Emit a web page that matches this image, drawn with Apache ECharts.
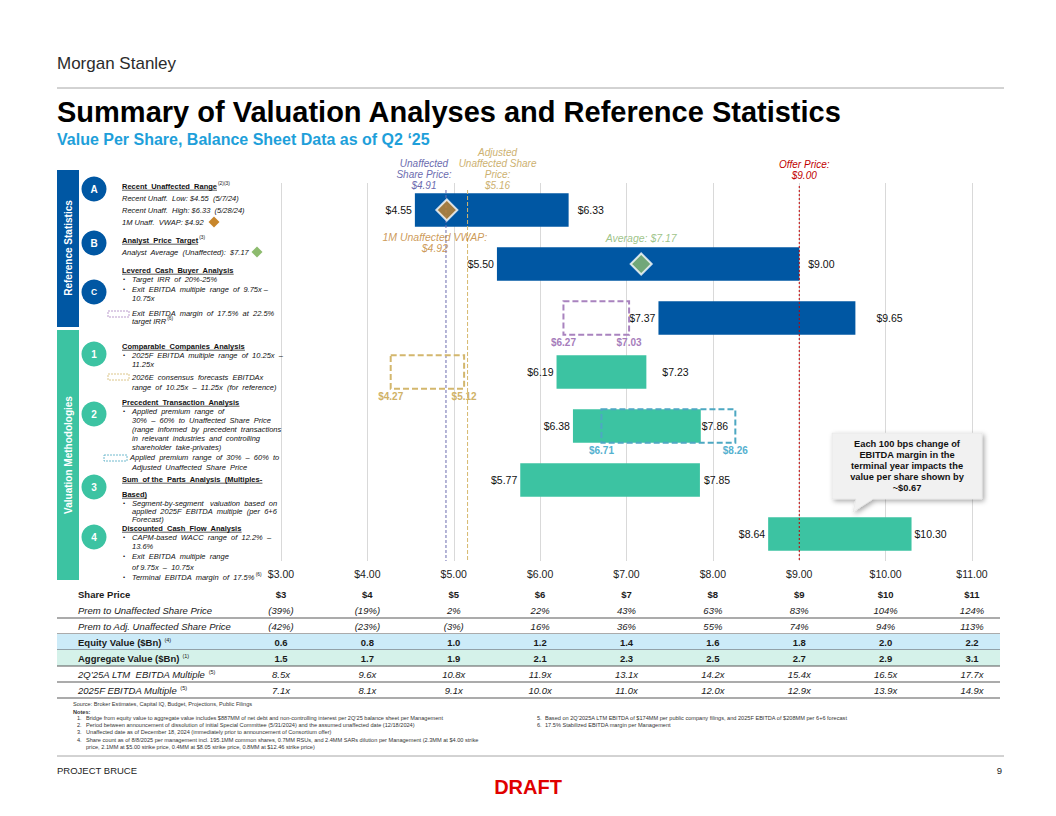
<!DOCTYPE html>
<html><head><meta charset="utf-8">
<script src="https://cdn.jsdelivr.net/npm/echarts@6/dist/echarts.min.js"></script>
<style>html,body{margin:0;padding:0;background:#fff}#c{width:1056px;height:816px}</style>
</head><body><div id="c"></div>
<script>
// ---------------- DATA ----------------
const rowIds = ['A', 'B', 'C', '1', '2', '3', '4'];
const rangeLows  = [4.55, 5.50, 7.37, 6.19, 6.38, 5.77, 8.64];
const rangeHighs = [6.33, 9.00, 9.65, 7.23, 7.86, 7.85, 10.30];
const rangeGroups = ['ref', 'ref', 'ref', 'val', 'val', 'val', 'val'];

const boxRows  = ['C', '1', '2'];
const boxLows  = [6.27, 4.27, 6.71];
const boxHighs = [7.03, 5.12, 8.26];

const vwapValue = 4.92, vwapRow = 'A';
const analystAvgValue = 7.17, analystRow = 'B';

const refLineNames  = ['Unaffected\nShare Price:', 'Adjusted\nUnaffected Share\nPrice:', 'Offer Price:'];
const refLineValues = [4.91, 5.16, 9.00];

const sharePrices = [3, 4, 5, 6, 7, 8, 9, 10, 11];
const premUnaffected = [-39, -19, 2, 22, 43, 63, 83, 104, 124];
const premAdjUnaffected = [-42, -23, -3, 16, 36, 55, 74, 94, 113];
const equityValue = [0.6, 0.8, 1.0, 1.2, 1.4, 1.6, 1.8, 2.0, 2.2];
const aggregateValue = [1.5, 1.7, 1.9, 2.1, 2.3, 2.5, 2.7, 2.9, 3.1];
const ltmMultiple = [8.5, 9.6, 10.8, 11.9, 13.1, 14.2, 15.4, 16.5, 17.7];
const fwdMultiple = [7.1, 8.1, 9.1, 10.0, 11.0, 12.0, 12.9, 13.9, 14.9];
const tableRowNames = ['Share Price', 'Prem to Unaffected Share Price', 'Prem to Adj. Unaffected Share Price',
  'Equity Value ($Bn)', 'Aggregate Value ($Bn)', '2Q’25A LTM  EBITDA Multiple', '2025F EBITDA Multiple'];
const tableRowNotes = ['', '', '', '(4)', '(1)', '(5)', '(5)'];

// ---------------- STYLE ----------------
const FONT = "'Liberation Sans', Arial, sans-serif";
const BLUE = '#0057A3', TEAL = '#3CC3A2';
const BOX_COLORS = ['#A983BF', '#D3B76D', '#4DA8C2'];
const BOX_LABEL_COLORS = ['#A67DBB', '#D0B267', '#55B1CF'];
const REF_COLORS = ['#6B6BAE', '#D6B86C', '#C00000'];
const REF_LABEL_COLORS = ['#6C6CAF', '#CDB170', '#C00000'];
const REF_DASH = [[3, 2], [4, 2], [2, 2]];
const REF_LABEL_DX = [-22, 30, 5];
const REF_TEXT_BOTTOM = [7.5, 7.5, -2];
const REF_LINE_START = [7, 7, 3];
const RIGHT_GAP = [9, 9, 21, 16, 1, 4, 3];
const TABLE_L = 57, TABLE_R = 1000;
const tableRowStyle = ['b', 'i', 'i', 'b', 'b', 'i', 'i'];
const tableRowFill = [null, null, null, '#CCEBF8', '#D5F2EA', null, null];

const fmtUSD = v => '$' + v.toFixed(2);
const fmtPct = v => v < 0 ? '(' + (-v) + '%)' : v + '%';
const tableFormat = [
  v => '$' + v, fmtPct, fmtPct, v => v.toFixed(1), v => v.toFixed(1), v => v.toFixed(1) + 'x', v => v.toFixed(1) + 'x'
];
const tableValues = [sharePrices, premUnaffected, premAdjUnaffected, equityValue, aggregateValue, ltmMultiple, fwdMultiple];

// text measuring
const mctx = document.createElement('canvas').getContext('2d');
function tw(text, size, weight, style) {
  mctx.font = (style || 'normal') + ' ' + (weight || 'normal') + ' ' + size + 'px ' + FONT;
  return mctx.measureText(text).width;
}
function T(x, y, text, o) {
  o = o || {};
  return { type: 'text', x: x, y: y, silent: true, z: o.z || 10,
    rotation: o.rotation || 0,
    style: { text: text, fill: o.color || '#111', fontSize: o.size || 7.5, fontWeight: o.weight || 'normal',
      fontStyle: o.style || 'normal', fontFamily: FONT, align: o.align || 'left', verticalAlign: o.va || 'middle',
      lineHeight: o.lh } };
}
function TX(x, y, text, sup, o) {
  const els = [T(x, y, text, o)];
  const w = tw(text, o.size || 7.5, o.weight, o.style);
  if (o.underline) {
    els.push({ type: 'line', silent: true, z: 10, shape: { x1: x, y1: y + 4.2, x2: x + w, y2: y + 4.2 }, style: { stroke: '#111', lineWidth: 0.7 } });
  }
  if (sup) els.push(T(x + w + 1, y - 2.5, sup, { size: 4.8, color: '#111' }));
  return els;
}
function diamond(cx, cy, r, fill) {
  return { type: 'polygon', silent: true, z: 10, shape: { points: [[cx, cy - r], [cx + r, cy], [cx, cy + r], [cx - r, cy]] }, style: { fill: fill } };
}

// ---------------- PAGE GRAPHICS ----------------
const G = [];
G.push(T(57, 63, 'Morgan Stanley', { size: 17, color: '#2b2b2b' }));
G.push({ type: 'line', silent: true, shape: { x1: 57, y1: 88, x2: 1004, y2: 88 }, style: { stroke: '#A6A6A6', lineWidth: 1 } });
G.push(T(57, 112, 'Summary of Valuation Analyses and Reference Statistics', { size: 29, weight: 'bold', color: '#000' }));
G.push(T(57, 139, 'Value Per Share, Balance Sheet Data as of Q2 ‘25', { size: 16, weight: 'bold', color: '#1E9FDA' }));

// side bars
G.push({ type: 'rect', silent: true, shape: { x: 57, y: 170, width: 22, height: 157 }, style: { fill: BLUE } });
G.push({ type: 'rect', silent: true, shape: { x: 57, y: 330, width: 22, height: 250 }, style: { fill: TEAL } });
G.push(T(68, 248, 'Reference Statistics', { size: 10, weight: 'bold', color: '#fff', align: 'center', rotation: Math.PI / 2 }));
G.push(T(68, 455, 'Valuation Methodologies', { size: 10, weight: 'bold', color: '#fff', align: 'center', rotation: Math.PI / 2 }));

// circles
[['A', 189, BLUE], ['B', 243, BLUE], ['C', 292, BLUE], ['1', 354, TEAL], ['2', 414, TEAL], ['3', 487, TEAL], ['4', 537, TEAL]].forEach(c => {
  G.push({ type: 'circle', silent: true, shape: { cx: 94, cy: c[1], r: 12.5 }, style: { fill: c[2] } });
  G.push(T(94, c[1], c[0], { size: c[0] === 'C' ? 8.5 : 10, weight: 'bold', color: '#fff', align: 'center' }));
});

// left panel text
const H = { weight: 'bold', underline: true };
const I = { style: 'italic' };
function bullet(y) { G.push(T(123, y, '•', { size: 6 })); }
function add(x, y, text, o, sup) { TX(x, y, text, sup, o).forEach(e => G.push(e)); }
add(122, 186, 'Recent  Unaffected  Range', H, '(2)(3)');
add(122, 198, 'Recent Unaff.  Low: $4.55  (5/7/24)', I);
add(122, 210, 'Recent Unaff.  High: $6.33  (5/28/24)', I);
add(122, 222, '1M Unaff.  VWAP: $4.92', I);
G.push(diamond(214, 222, 5.5, '#C8862A'));
add(122, 240, 'Analyst  Price  Target', H, '(3)');
add(122, 252, 'Analyst  Average  (Unaffected):  $7.17', I);
G.push(diamond(257, 252, 5.5, '#8DBB6E'));
add(122, 270, 'Levered  Cash  Buyer  Analysis', H);
bullet(279); add(132, 279, 'Target  IRR  of  20%-25%', I);
bullet(289); add(132, 289, 'Exit  EBITDA  multiple  range  of  9.75x –', I);
add(132, 298, '10.75x', I);
G.push({ type: 'rect', silent: true, shape: { x: 108, y: 311, width: 21, height: 6 }, style: { fill: 'none', stroke: BOX_COLORS[0], lineWidth: 0.8, lineDash: [2, 1] } });
add(132, 313, 'Exit  EBITDA  margin  of  17.5%  at  22.5%', I);
add(132, 321, 'target IRR', I, '(6)');

add(122, 346, 'Comparable  Companies  Analysis', H);
bullet(355); add(132, 355, '2025F  EBITDA  multiple  range  of  10.25x  –', I);
add(132, 364, '11.25x', I);
G.push({ type: 'rect', silent: true, shape: { x: 108, y: 374, width: 21, height: 6 }, style: { fill: 'none', stroke: BOX_COLORS[1], lineWidth: 0.8, lineDash: [2, 1] } });
add(132, 377, '2026E  consensus  forecasts  EBITDAx', I);
add(132, 387, 'range  of  10.25x  –  11.25x  (for  reference)', I);
add(122, 402, 'Precedent  Transaction  Analysis', H);
bullet(411); add(132, 411, 'Applied  premium  range  of', I);
add(132, 420, '30%  –  60%  to  Unaffected  Share  Price', I);
add(132, 429, '(range  informed  by  precedent  transactions', I);
add(132, 438, 'in  relevant  industries  and  controlling', I);
add(132, 447, 'shareholder  take-privates)', I);
G.push({ type: 'rect', silent: true, shape: { x: 104, y: 455, width: 23, height: 6 }, style: { fill: 'none', stroke: BOX_COLORS[2], lineWidth: 0.8, lineDash: [2, 1] } });
add(130, 457, 'Applied  premium  range  of  30%  –  60%  to', I);
add(132, 467, 'Adjusted  Unaffected  Share  Price', I);
add(122, 479, 'Sum  of the  Parts  Analysis  (Multiples-', H);
add(122, 494, 'Based)', H);
bullet(503); add(132, 503, 'Segment-by-segment   valuation  based  on', I);
add(132, 511, 'applied  2025F  EBITDA  multiple  (per  6+6', I);
add(132, 519, 'Forecast)', I);
add(122, 528, 'Discounted  Cash  Flow  Analysis', H);
bullet(537); add(132, 537, 'CAPM-based  WACC  range  of  12.2%  –', I);
add(132, 546, '13.6%', I);
bullet(556); add(132, 556, 'Exit  EBITDA  multiple  range', I);
add(132, 567, 'of 9.75x  –  10.75x', I);
bullet(577); add(132, 577, 'Terminal  EBITDA  margin  of  17.5%', I, '(6)');

// callout
G.push({ type: 'polygon', silent: true, z: 20,
  shape: { points: [[832, 433], [982, 433], [982, 499], [873, 499], [853, 512], [856, 499], [832, 499]] },
  style: { fill: '#F1F1F1', stroke: '#E2E2E2', lineWidth: 0.5, shadowBlur: 5, shadowColor: 'rgba(0,0,0,0.35)', shadowOffsetX: 2, shadowOffsetY: 2 } });
['Each 100 bps change of', 'EBITDA margin in the', 'terminal year impacts the', 'value per share shown by', '~$0.67'].forEach((s, k) => {
  G.push(T(907, 444 + k * 11, s, { size: 9.3, weight: 'bold', color: '#111', align: 'center', z: 21 }));
});

// notes
G.push(T(73, 704, 'Source: Broker Estimates, Capital IQ, Budget, Projections, Public Filings', { size: 5.6, color: '#333' }));
G.push(T(73, 712, 'Notes:', { size: 5.6, weight: 'bold', color: '#333' }));
const notesL = [
  ['1.', 'Bridge from equity value to aggregate value includes $887MM of net debt and non-controlling interest per 2Q’25 balance sheet per Management'],
  ['2.', 'Period between announcement of dissolution of initial Special Committee (5/31/2024) and the assumed unaffected date (12/18/2024)'],
  ['3.', 'Unaffected date as of December 18, 2024 (immediately prior to announcement of Consortium offer)'],
  ['4.', 'Share count as of 8/8/2025 per management incl. 195.1MM common shares, 0.7MM RSUs, and 2.4MM SARs dilution per Management (2.3MM at $4.00 strike'],
  ['', 'price, 2.1MM at $5.00 strike price, 0.4MM at $8.05 strike price, 0.8MM at $12.46 strike price)']
];
notesL.forEach((n, k) => {
  if (n[0]) G.push(T(77, 718 + k * 7.2, n[0], { size: 5.6, color: '#333' }));
  G.push(T(86, 718 + k * 7.2, n[1], { size: 5.6, color: '#333' }));
});
const notesR = [
  ['5.', 'Based on 2Q’2025A LTM EBITDA of $174MM per public company filings, and 2025F EBITDA of $208MM per 6+6 forecast'],
  ['6.', '17.5% Stabilized EBITDA margin per Management']
];
notesR.forEach((n, k) => {
  G.push(T(537, 718 + k * 7.2, n[0], { size: 5.6, color: '#333' }));
  G.push(T(545, 718 + k * 7.2, n[1], { size: 5.6, color: '#333' }));
});

// footer
G.push({ type: 'line', silent: true, shape: { x1: 57, y1: 756, x2: 1004, y2: 756 }, style: { stroke: '#A6A6A6', lineWidth: 1 } });
G.push(T(57, 770, 'PROJECT BRUCE', { size: 9.5, color: '#222' }));
G.push(T(1002, 770, '9', { size: 9.5, color: '#222', align: 'right' }));
G.push(T(528, 787, 'DRAFT', { size: 20, weight: 'bold', color: '#E00000', align: 'center' }));

// ---------------- SERIES ----------------
function renderRange(params, api) {
  const i = params.dataIndex;
  const lo = api.value(0), hi = api.value(1), r = api.value(2);
  const a = api.coord([lo, r]), b = api.coord([hi, r]);
  const h = api.size([0, 1])[1] * 0.62;
  const color = rangeGroups[i] === 'ref' ? BLUE : TEAL;
  const ts = { fill: '#111', fontSize: 10.5, fontFamily: FONT, verticalAlign: 'middle' };
  return { type: 'group', children: [
    { type: 'rect', shape: { x: a[0], y: a[1] - h / 2, width: b[0] - a[0], height: h }, style: { fill: color } },
    { type: 'text', z2: 5, style: Object.assign({ text: fmtUSD(lo), x: a[0] - 3, y: a[1], align: 'right' }, ts) },
    { type: 'text', z2: 5, style: Object.assign({ text: fmtUSD(hi), x: b[0] + RIGHT_GAP[i], y: a[1], align: 'left' }, ts) }
  ] };
}
function renderBox(params, api) {
  const i = params.dataIndex;
  const lo = api.value(0), hi = api.value(1), r = api.value(2);
  const a = api.coord([lo, r]), b = api.coord([hi, r]);
  const h = api.size([0, 1])[1] * 0.62;
  const ls = { fill: BOX_LABEL_COLORS[i], fontSize: 10, fontWeight: 'bold', fontFamily: FONT, verticalAlign: 'middle', align: 'center' };
  return { type: 'group', children: [
    { type: 'rect', shape: { x: a[0], y: a[1] - h / 2, width: b[0] - a[0], height: h },
      style: { fill: 'none', stroke: BOX_COLORS[i], lineWidth: 2, lineDash: [6, 3] } },
    { type: 'text', style: Object.assign({ text: fmtUSD(lo), x: a[0], y: a[1] + h / 2 + 8 }, ls) },
    { type: 'text', style: Object.assign({ text: fmtUSD(hi), x: b[0], y: a[1] + h / 2 + 8 }, ls) }
  ] };
}
function renderRef(params, api) {
  const i = params.dataIndex;
  const v = api.value(0);
  const cs = params.coordSys;
  const x = api.coord([v, 0])[0];
  return { type: 'group', children: [
    { type: 'line', shape: { x1: x, y1: cs.y + REF_LINE_START[i], x2: x, y2: cs.y + cs.height },
      style: { stroke: REF_COLORS[i], lineWidth: 1, lineDash: REF_DASH[i] } },
    { type: 'text', style: { text: refLineNames[i] + '\n' + fmtUSD(v), x: x + REF_LABEL_DX[i], y: cs.y + REF_TEXT_BOTTOM[i],
      align: 'center', verticalAlign: 'bottom', fill: REF_LABEL_COLORS[i], fontSize: 10, fontStyle: 'italic', fontFamily: FONT, lineHeight: 11 } }
  ] };
}
function renderCell(params, api) {
  const i = params.dataIndex;
  const r = Math.floor(i / sharePrices.length), c = i % sharePrices.length;
  const p = api.coord([api.value(0), api.value(1)]);
  const st = tableRowStyle[r];
  return { type: 'text', style: { text: tableFormat[r](tableValues[r][c]), x: p[0], y: p[1], align: 'center', verticalAlign: 'middle',
    fill: '#1a1a1a', fontSize: 9.5, fontFamily: FONT, fontWeight: st === 'b' ? 'bold' : 'normal', fontStyle: st === 'i' ? 'italic' : 'normal' } };
}
function renderRowBg(params, api) {
  const r = api.value(1);
  const c = api.coord([api.value(0), r]);
  const band = api.size([0, 1])[1];
  const top = c[1] - band / 2, bot = c[1] + band / 2;
  const ch = [];
  if (tableRowFill[r]) ch.push({ type: 'rect', shape: { x: TABLE_L, y: top, width: TABLE_R - TABLE_L, height: band }, style: { fill: tableRowFill[r] } });
  if (r >= 1) ch.push({ type: 'line', shape: { x1: TABLE_L, y1: bot, x2: TABLE_R, y2: bot }, style: { stroke: '#595959', lineWidth: 1.2 } });
  return { type: 'group', children: ch };
}

const cellData = [];
tableValues.forEach((arr, r) => sharePrices.forEach((p, c) => cellData.push([p, r])));

const option = {
  animation: false,
  backgroundColor: '#fff',
  textStyle: { fontFamily: FONT },
  grid: [
    { left: 281, right: 84, top: 183, bottom: 255 },
    { left: 281, right: 84, top: 586, bottom: 118 }
  ],
  xAxis: [
    { type: 'value', gridIndex: 0, min: 3, max: 11, interval: 1,
      axisLine: { show: false }, axisTick: { show: false },
      axisLabel: { formatter: v => fmtUSD(v), fontSize: 10.5, color: '#222', margin: 7, fontFamily: FONT },
      splitLine: { lineStyle: { color: '#D9D9D9', width: 1 } } },
    { type: 'value', gridIndex: 1, min: 3, max: 11, interval: 1, show: false }
  ],
  yAxis: [
    { type: 'category', gridIndex: 0, data: rowIds, inverse: true, show: false },
    { type: 'category', gridIndex: 1, data: tableRowNames, inverse: true, z: 10,
      axisLine: { show: false }, axisTick: { show: false }, splitLine: { show: false },
      axisLabel: { align: 'left', margin: 203, fontFamily: FONT, interval: 0,
        formatter: (val, idx) => '{' + tableRowStyle[idx] + '|' + val + '}' + (tableRowNotes[idx] ? '{sup|  ' + tableRowNotes[idx] + '}' : ''),
        rich: {
          b: { fontWeight: 'bold', fontSize: 9.5, color: '#1a1a1a', fontFamily: FONT },
          i: { fontStyle: 'italic', fontSize: 9.5, color: '#1a1a1a', fontFamily: FONT },
          sup: { fontSize: 5.5, color: '#1a1a1a', verticalAlign: 'top', fontFamily: FONT }
        } } }
  ],
  series: [
    { type: 'custom', name: 'ranges', xAxisIndex: 0, yAxisIndex: 0, z: 2, renderItem: renderRange,
      encode: { x: [0, 1], y: 2 }, data: rowIds.map((r, i) => [rangeLows[i], rangeHighs[i], i]) },
    { type: 'custom', name: 'refLines', xAxisIndex: 0, yAxisIndex: 0, z: 3, renderItem: renderRef,
      encode: { x: 0 }, data: refLineValues.map(v => [v]) },
    { type: 'custom', name: 'boxes', xAxisIndex: 0, yAxisIndex: 0, z: 4, renderItem: renderBox,
      encode: { x: [0, 1], y: 2 }, data: boxRows.map((r, i) => [boxLows[i], boxHighs[i], rowIds.indexOf(r)]) },
    { type: 'scatter', name: 'vwap', xAxisIndex: 0, yAxisIndex: 0, z: 6, symbol: 'diamond', symbolSize: [21, 21],
      itemStyle: { color: '#C8862A', borderColor: '#fff', borderWidth: 2 },
      label: { show: true, position: 'bottom', distance: 10, offset: [-12, 0], formatter: p => '1M Unaffected VWAP:\n' + fmtUSD(p.value[0]),
        color: '#C0802C', fontSize: 10.5, fontStyle: 'italic', fontFamily: FONT, lineHeight: 11, align: 'center' },
      data: [[vwapValue, vwapRow]] },
    { type: 'scatter', name: 'analyst', xAxisIndex: 0, yAxisIndex: 0, z: 6, symbol: 'diamond', symbolSize: [21, 21],
      itemStyle: { color: '#8DBB6E', borderColor: '#fff', borderWidth: 2 },
      label: { show: true, position: 'top', distance: 9, formatter: p => 'Average: ' + fmtUSD(p.value[0]),
        color: '#86B46A', fontSize: 10.5, fontStyle: 'italic', fontFamily: FONT },
      data: [[analystAvgValue, analystRow]] },
    { type: 'custom', name: 'tableRows', xAxisIndex: 1, yAxisIndex: 1, z: 0, renderItem: renderRowBg,
      encode: { x: 0, y: 1 }, data: tableRowNames.map((n, i) => [3, i]) },
    { type: 'custom', name: 'tableCells', xAxisIndex: 1, yAxisIndex: 1, z: 3, renderItem: renderCell,
      encode: { x: 0, y: 1 }, data: cellData }
  ],
  graphic: G
};

const chart = echarts.init(document.getElementById('c'), null, { renderer: 'svg', width: 1056, height: 816 });
chart.setOption(option);
</script>
</body></html>
